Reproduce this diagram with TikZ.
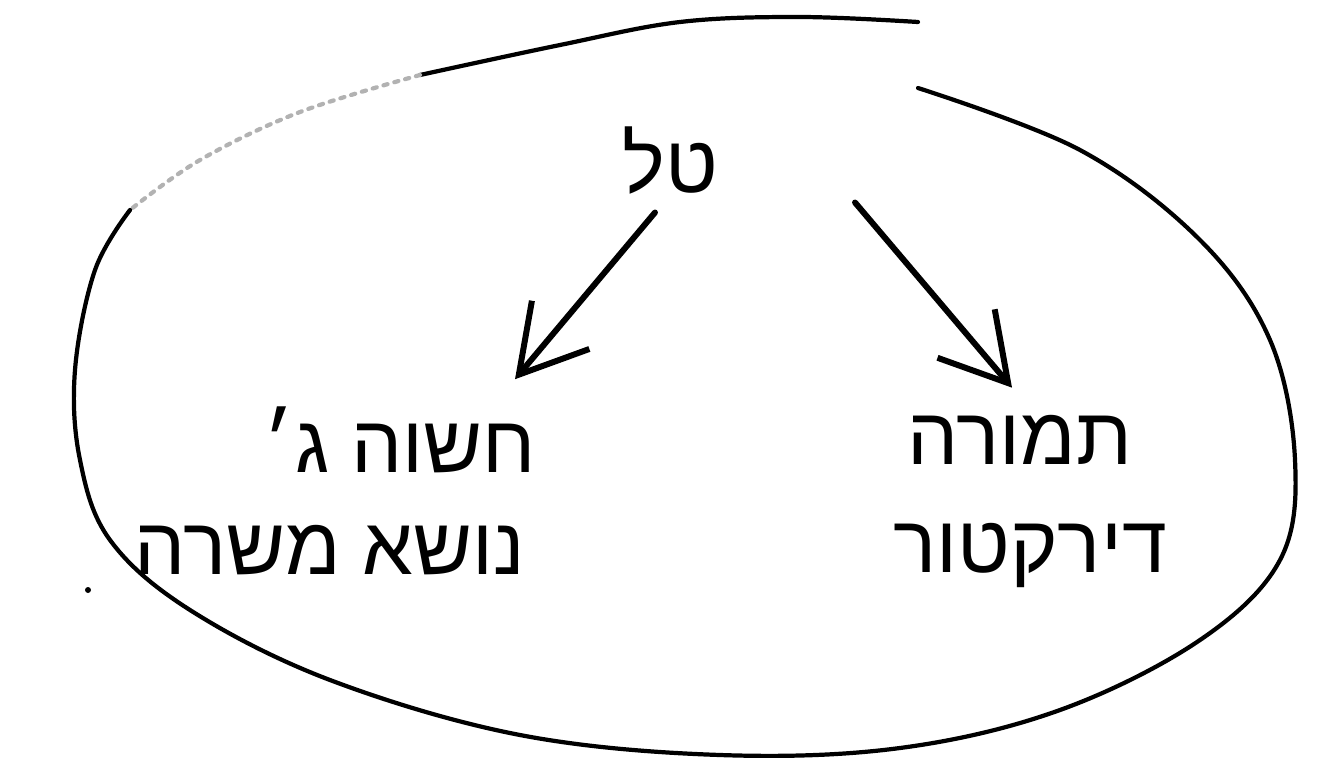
\documentclass[tikz,border=0pt]{standalone}
\usepackage{fontspec}
\usepackage{tikz}
\usetikzlibrary{arrows.meta}
\TeXXeTstate=1
\newfontfamily\hebfont[Script=Hebrew]{Liberation Sans}

\begin{document}
\begin{tikzpicture}[
  word/.style={font=\hebfont\fontsize{23}{28}\selectfont, inner sep=2pt},
  pen/.style={line width=1.2pt, line cap=round, line join=round},
  arr/.style={line width=1.7pt, line cap=round, -{Straight Barb[length=6.5mm,width=7.5mm]}}]
\useasboundingbox (0,0) rectangle (13.22,7.61);
\draw[pen] plot[smooth, tension=0.6] coordinates {(9.18,7.39) (8.00,7.44) (6.80,7.39) (5.60,7.16) (4.20,6.86)};
\draw[pen, gray!60, dotted] plot[smooth, tension=0.6] coordinates {(4.20,6.86) (3.00,6.49) (2.00,6.01) (1.30,5.51)};
\draw[pen] plot[smooth, tension=0.6] coordinates {(1.30,5.51) (0.95,4.91) (0.75,3.91) (0.80,3.01) (1.10,2.21) (1.90,1.51) (3.30,0.81) (5.20,0.26) (7.20,0.06) (9.00,0.13) (10.60,0.51) (12.00,1.21) (12.80,2.01) (12.95,3.01) (12.70,4.21) (12.00,5.21) (10.80,6.11) (9.18,6.73)};
\fill (0.88,1.71) circle (0.03);

\node[word] (top) at (6.70,6.00) {\beginR טל\endR};
\node[word] (lft) at (4.00,3.21) {\beginR חשוה ג׳\endR};
\node[word] (rgt) at (10.20,3.21) {\beginR תמורה\endR};
\node[word] (lbot) at (3.30,2.11) {\beginR נושא משרה\endR};
\node[word] (rbot) at (10.30,2.06) {\beginR דירקטור\endR};

\draw[arr] ([xshift=-0.15cm,yshift=-0.1cm]top.south) -- ([xshift=1.15cm,yshift=0.2cm]lft.north);
\draw[arr] ([xshift=1.85cm]top.south) -- ([xshift=-0.08cm,yshift=0.2cm]rgt.north);
\end{tikzpicture}
\end{document}
